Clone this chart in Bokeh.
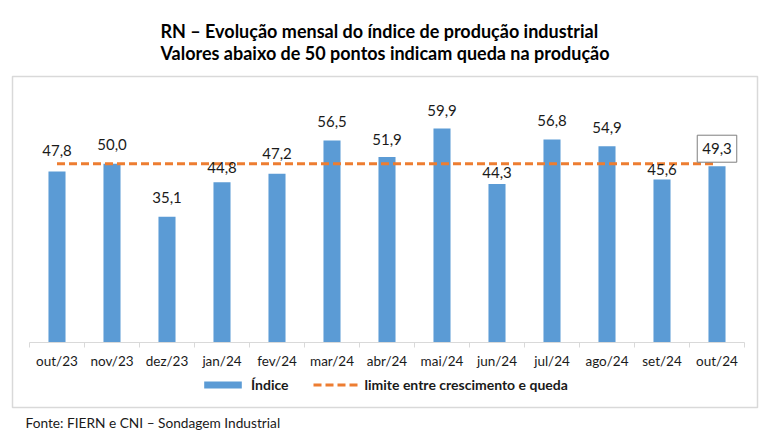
from bokeh.plotting import figure
from bokeh.models import (ColumnDataSource, Range1d, FixedTicker, LabelSet, Label, Legend,
                          LegendItem, Title)
from bokeh.core.properties import value
from bokeh.embed import file_html
from bokeh.resources import INLINE

months = ["out/23", "nov/23", "dez/23", "jan/24", "fev/24", "mar/24", "abr/24",
          "mai/24", "jun/24", "jul/24", "ago/24", "set/24", "out/24"]
indice = [47.8, 50.0, 35.1, 44.8, 47.2, 56.5, 51.9, 59.9, 44.3, 56.8, 54.9, 45.6, 49.3]
limite = [50.0] * len(months)

# style: pixel lift of each data label above its bar (labels dodge the dashed line)
label_lift = [21, 19, 19, 15, 20, 19.5, 17, 18, 12, 19, 19, 10, 17.5]

FONT = "Lato"
BLUE = "#5B9BD5"
ORANGE = "#ED7D31"
GRID = "#D9D9D9"
TXT = "#1a1a1a"

n = len(months)
centers = [i + 0.5 for i in range(n)]
bounds = [float(i) for i in range(n + 1)]
labels = [f"{v:.1f}".replace(".", ",") for v in indice]

src_main = ColumnDataSource(dict(x=centers[:-1], y=indice[:-1], lab=labels[:-1],
                                 dy=label_lift[:-1]))
src_bar = ColumnDataSource(dict(x=centers, y=indice))
src_line = ColumnDataSource(dict(x=centers, y=limite))

# frame = outer grey box; scale 3.6 px per unit, 55 px per category
p = figure(width=770, height=434, output_backend="svg", toolbar_location=None,
           x_range=Range1d(-17 / 55, n + 13 / 55), y_range=Range1d(-66 / 3.6, 268 / 3.6),
           y_axis_location=None,
           min_border_left=12, min_border_right=13, min_border_top=76, min_border_bottom=24)
p.outline_line_color = GRID
p.outline_line_width = 1.5
p.xgrid.grid_line_color = None
p.ygrid.grid_line_color = None

bars = p.vbar(x="x", top="y", width=0.31, source=src_bar, fill_color=BLUE, line_color=None)
line = p.line(x="x", y="y", source=src_line, line_color=ORANGE, line_width=3, line_dash="8 4")

ax = p.xaxis[0]
ax.fixed_location = 0
ax.bounds = (0, n)
ax.ticker = FixedTicker(ticks=centers, minor_ticks=bounds)
ax.major_label_overrides = {c: m for c, m in zip(centers, months)}
ax.major_tick_line_color = None
ax.major_tick_out = 5
ax.major_tick_in = 0
ax.minor_tick_line_color = GRID
ax.minor_tick_out = 5
ax.minor_tick_in = 0
ax.axis_line_color = GRID
ax.major_label_standoff = 6
ax.major_label_text_font = FONT
ax.major_label_text_font_size = "13.5px"
ax.major_label_text_color = TXT

p.add_layout(LabelSet(x="x", y="y", text="lab", source=src_main, text_align="center",
                      text_baseline="middle", y_offset="dy", text_font=value(FONT),
                      text_font_size=value("15px"), text_color=TXT))
p.add_layout(Label(x=centers[-1], y=indice[-1], text=labels[-1], text_align="center",
                   text_baseline="middle", y_offset=label_lift[-1], text_font=FONT,
                   text_font_size="15px", text_color=TXT,
                   border_line_color="#7F7F7F", border_line_width=1,
                   background_fill_color="white",
                   padding=dict(left=5, right=5, top=8, bottom=8)))

legend = Legend(items=[LegendItem(label="Índice", renderers=[bars]),
                       LegendItem(label="limite entre crescimento e queda", renderers=[line])],
                orientation="horizontal", location=(187, 14))
legend.label_text_font = FONT
legend.label_text_font_size = "14px"
legend.label_text_font_style = "bold"
legend.label_text_color = TXT
legend.glyph_width = 47
legend.glyph_height = 9
legend.label_height = 9
legend.label_standoff = 5
legend.spacing = 24
legend.border_line_color = None
legend.background_fill_alpha = 0
legend.padding = 0
legend.margin = 0
p.add_layout(legend)

p.title.text = ("RN – Evolução mensal do índice de produção industrial\n"
                "Valores abaixo de 50 pontos indicam queda na produção")
p.title.align = "center"
p.title.text_font = FONT
p.title.text_font_size = "18px"
p.title.text_font_style = "bold"
p.title.text_line_height = 1.02
p.title.text_color = "#000000"
p.title.standoff = 24

src_title = Title(text="Fonte: FIERN e CNI – Sondagem Industrial", align="left",
                  text_font=FONT, text_font_size="13.7px", text_font_style="normal",
                  text_color=TXT, offset=13, standoff=8, text_line_height=1.0)
p.add_layout(src_title, "below")

open("out.html", "w").write(file_html(p, INLINE))
